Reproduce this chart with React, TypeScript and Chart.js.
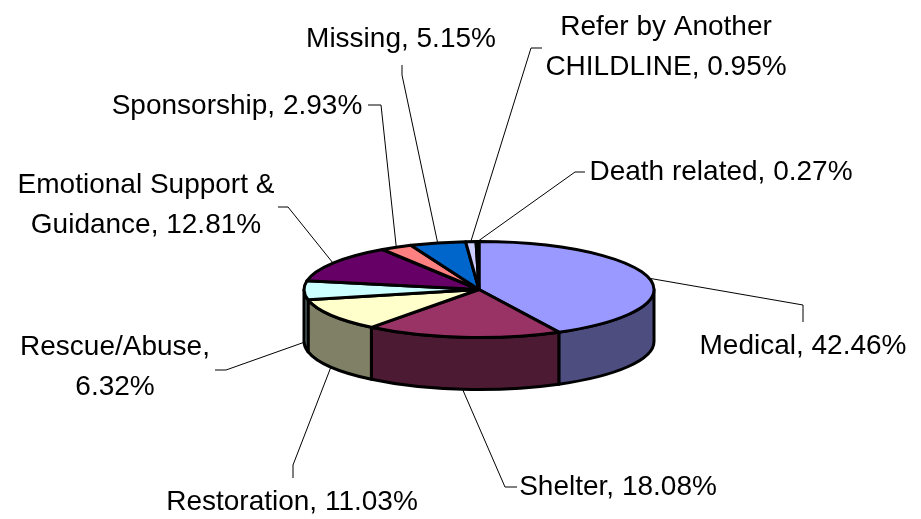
import React, { useEffect, useRef } from "react";
import { Chart, registerables } from "chart.js";

Chart.register(...registerables);

const categories = [
  "Medical",
  "Shelter",
  "Restoration",
  "Rescue/Abuse",
  "Emotional Support & Guidance",
  "Sponsorship",
  "Missing",
  "Refer by Another CHILDLINE",
  "Death related",
];
const values = [42.46, 18.08, 11.03, 6.32, 12.81, 2.93, 5.15, 0.95, 0.27];
const topColors = ["#9999FF", "#993366", "#FFFFCC", "#CCFFFF", "#660066", "#FF8080", "#0066CC", "#CCCCFF", "#000080"];
const wallColors = ["#4D4D80", "#4D1A33", "#808066", "#668080", "#330033", "#804040", "#003366", "#666680", "#000040"];

// Label layout: how each label wraps, its text centre, and the elbow(s) of its leader line.
const labelBreaks = [null, null, null, "Rescue/Abuse,", "Emotional Support &", null, null, "Refer by Another", null];
const labelCentres = [
  [803, 346],
  [618, 487],
  [292, 502],
  [115, 347],
  [146, 185],
  [237, 106],
  [401, 39],
  [666, 27],
  [721, 172],
];
const leaderElbows = [
  [[803, 305], [803, 322]],
  [[505, 487], [517, 487]],
  [[293, 465], [293, 478]],
  [[226, 370], [215, 370]],
  [[288, 207], [278, 207]],
  [[381, 105], [368, 105]],
  [[402, 75], [402, 65]],
  [[531, 48], [542, 48]],
  [[575, 172], [585, 172]],
];

const Y_RATIO = 0.274;
const DEPTH = 52;
const FONT = '28px "Liberation Sans", Arial, sans-serif';
const LINE_GAP = 40.5;

function labelLines(i: number): string[] {
  const text = `${categories[i]}, ${values[i].toFixed(2)}%`;
  const brk = labelBreaks[i];
  if (!brk) return [text];
  return [brk, text.slice(brk.length).trim()];
}

const pie3d = {
  id: "pie3d",
  beforeDatasetsDraw(chart: any) {
    const ctx: CanvasRenderingContext2D = chart.ctx;
    const arcs = chart.getDatasetMeta(0).data as any[];
    ctx.save();
    ctx.strokeStyle = "#000";
    ctx.lineWidth = 3;
    ctx.lineJoin = "round";

    // Front wall of the disc
    arcs.forEach((el, i) => {
      const a = Math.max(el.startAngle, 0);
      const b = Math.min(el.endAngle, Math.PI);
      if (b <= a) return;
      const rx = el.outerRadius;
      const ry = rx * Y_RATIO;
      ctx.beginPath();
      ctx.ellipse(el.x, el.y, rx, ry, 0, a, b);
      ctx.ellipse(el.x, el.y + DEPTH, rx, ry, 0, b, a, true);
      ctx.closePath();
      ctx.fillStyle = wallColors[i];
      ctx.fill();
      ctx.stroke();
    });

    // Top face of the disc
    arcs.forEach((el, i) => {
      const rx = el.outerRadius;
      const ry = rx * Y_RATIO;
      ctx.beginPath();
      ctx.moveTo(el.x, el.y);
      ctx.ellipse(el.x, el.y, rx, ry, 0, el.startAngle, el.endAngle);
      ctx.closePath();
      ctx.fillStyle = topColors[i];
      ctx.fill();
      ctx.stroke();
    });

    // Leader lines, anchored on each slice's middle angle
    ctx.lineWidth = 1;
    arcs.forEach((el, i) => {
      const mid = (el.startAngle + el.endAngle) / 2;
      const rx = el.outerRadius;
      const ry = rx * Y_RATIO;
      const sy = el.y + ry * Math.sin(mid) + (Math.sin(mid) > 0 || i === 3 ? DEPTH : 0);
      ctx.beginPath();
      ctx.moveTo(el.x + rx * Math.cos(mid), sy);
      leaderElbows[i].forEach(([x, y]) => ctx.lineTo(x, y));
      ctx.stroke();
    });

    // Labels
    ctx.fillStyle = "#000";
    ctx.font = FONT;
    ctx.textAlign = "center";
    ctx.textBaseline = "middle";
    arcs.forEach((_, i) => {
      const [x, y] = labelCentres[i];
      labelLines(i).forEach((line, k) => ctx.fillText(line, x, y + k * LINE_GAP));
    });
    ctx.restore();
    return false;
  },
};

export default function App() {
  const ref = useRef<HTMLCanvasElement>(null);
  useEffect(() => {
    const chart = new Chart(ref.current as HTMLCanvasElement, {
      type: "pie",
      data: {
        labels: categories,
        datasets: [{ data: values, backgroundColor: topColors, borderWidth: 0 }],
      },
      options: {
        animation: false,
        responsive: false,
        layout: { padding: { left: 304, right: 267, top: 114.5, bottom: 54.5 } },
        plugins: { legend: { display: false }, tooltip: { enabled: false } },
      },
      plugins: [pie3d],
    } as any);
    return () => chart.destroy();
  }, []);
  return (
    <div style={{ position: "fixed", left: 0, top: 0, width: 921, height: 519, background: "#fff" }}>
      <canvas ref={ref} width={921} height={519} style={{ display: "block" }} />
    </div>
  );
}
